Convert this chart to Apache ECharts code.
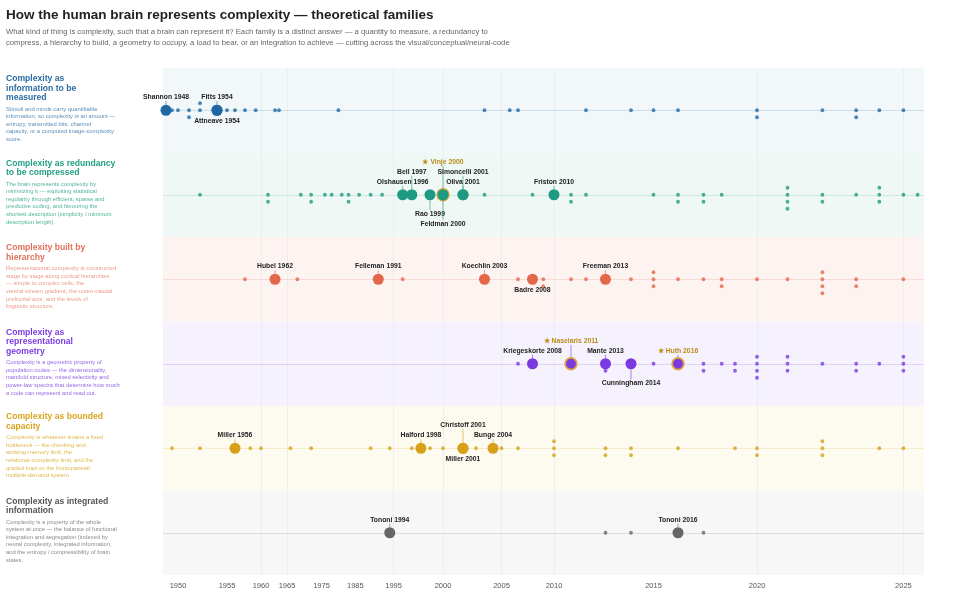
<!DOCTYPE html>
<html>
<head>
<meta charset="utf-8">
<script src="https://cdn.jsdelivr.net/npm/echarts@6/dist/echarts.min.js"></script>
<style>
html, body { margin: 0; padding: 0; background: #fff; }
#chart { width: 960px; height: 609px; }
</style>
</head>
<body>
<div id="chart"></div>
<script>
// year axis is warped: crowded decades get more room
const warpYears = [1948, 1950, 1952, 1954, 1955, 1956, 1957, 1960, 1962, 1965, 1975, 1985, 1995, 1999, 2000, 2001, 2002, 2005, 2007, 2008, 2010, 2011, 2012, 2013, 2014, 2015, 2016, 2017, 2018, 2019, 2020, 2021, 2022, 2023, 2024, 2025, 2026];
const warpPos = [166, 178, 200, 217, 227, 235, 245, 261, 275, 287, 321.5, 355.3, 393.6, 430, 443, 463, 476, 501.5, 518, 532.5, 554, 571, 586, 605.5, 631, 653.5, 678, 703.5, 721.7, 735, 757, 787.5, 822.4, 856.2, 879.3, 903.4, 917.6];
const tickYears = [1950, 1955, 1960, 1965, 1975, 1985, 1995, 2000, 2005, 2010, 2015, 2020, 2025];
const gridYears = [1960, 1965, 1995, 2000, 2005, 2010, 2020, 2025];

const familyTitles = [
  'Complexity as\ninformation to be\nmeasured',
  'Complexity as redundancy\nto be compressed',
  'Complexity built by\nhierarchy',
  'Complexity as\nrepresentational\ngeometry',
  'Complexity as bounded\ncapacity',
  'Complexity as integrated\ninformation'
];
const familyNotes = [
  'Stimuli and minds carry quantifiable\ninformation, so complexity is an amount —\nentropy, transmitted bits, channel\ncapacity, or a computed image-complexity\nscore.',
  'The brain represents complexity by\nminimizing it — exploiting statistical\nregularity through efficient, sparse and\npredictive coding, and favouring the\nshortest description (simplicity / minimum\ndescription length).',
  'Representational complexity is constructed\nstage by stage along cortical hierarchies\n— simple to complex cells, the\nventral-stream gradient, the rostro-caudal\nprefrontal axis, and the levels of\nlinguistic structure.',
  'Complexity is a geometric property of\npopulation codes — the dimensionality,\nmanifold structure, mixed selectivity and\npower-law spectra that determine how much\na code can represent and read out.',
  'Complexity is whatever strains a fixed\nbottleneck — the chunking and\nworking-memory limit, the\nrelational-complexity limit, and the\ngraded load on the frontoparietal\nmultiple-demand system.',
  'Complexity is a property of the whole\nsystem at once — the balance of functional\nintegration and segregation (indexed by\nneural complexity, integrated information,\nand the entropy / compressibility of brain\nstates.'
];
const familyColors = ['#1f68a3', '#1f9a82', '#e3674b', '#7b3ae0', '#d6a118', '#666666'];
const titleColors = ['#2a6ca3', '#23a086', '#e2705a', '#7a3de2', '#d8a51f', '#555555'];
const noteColors = ['#5b8fba', '#4fb39c', '#ee9c88', '#9466e8', '#dfb84e', '#8a8a8a'];
const bandColors = ['#f2f7fa', '#f0f8f6', '#fdf3f1', '#f6f2fd', '#fdfaf0', '#f7f7f7'];

// key papers: [label, year, label level (+ above / - below), starred]
const keyInfo = [['Shannon 1948', 1948, 1, 0], ['Fitts 1954', 1954, 1, 0], ['Attneave 1954', 1954, -1, 0]];
const keyRedundancy = [['Olshausen 1996', 1996, 1, 0], ['Bell 1997', 1997, 2, 0], ['Rao 1999', 1999, -2, 0], ['Vinje 2000', 2000, 3, 1], ['Feldman 2000', 2000, -3, 0], ['Simoncelli 2001', 2001, 2, 0], ['Oliva 2001', 2001, 1, 0], ['Friston 2010', 2010, 1, 0]];
const keyHierarchy = [['Hubel 1962', 1962, 1, 0], ['Felleman 1991', 1991, 1, 0], ['Koechlin 2003', 2003, 1, 0], ['Badre 2008', 2008, -1, 0], ['Freeman 2013', 2013, 1, 0]];
const keyGeometry = [['Kriegeskorte 2008', 2008, 1, 0], ['Naselaris 2011', 2011, 2, 1], ['Mante 2013', 2013, 1, 0], ['Cunningham 2014', 2014, -2, 0], ['Huth 2016', 2016, 1, 1]];
const keyCapacity = [['Miller 1956', 1956, 1, 0], ['Halford 1998', 1998, 1, 0], ['Christoff 2001', 2001, 2, 0], ['Miller 2001', 2001, -1, 0], ['Bunge 2004', 2004, 1, 0]];
const keyIntegrated = [['Tononi 1994', 1994, 1, 0], ['Tononi 2016', 2016, 1, 0]];

// other papers: [year, stack slot (0 on line, + below, - above)]
const minorInfo = [[1949,0],[1950,0],[1951,0],[1951,1],[1952,-1],[1952,0],[1955,0],[1956,0],[1957,0],[1959,0],[1962,0],[1963,0],[1980,0],[2003,0],[2006,0],[2007,0],[2012,0],[2014,0],[2015,0],[2016,0],[2020,0],[2020,1],[2022,0],[2023,0],[2023,1],[2024,0],[2025,0]];
const minorRedundancy = [[1952,0],[1961,0],[1961,1],[1969,0],[1972,0],[1972,1],[1976,0],[1978,0],[1981,0],[1983,0],[1983,1],[1986,0],[1989,0],[1992,0],[2003,0],[2008,0],[2011,0],[2011,1],[2012,0],[2015,0],[2016,0],[2016,1],[2017,0],[2017,1],[2018,0],[2021,-1],[2021,0],[2021,1],[2021,2],[2022,0],[2022,1],[2023,0],[2024,-1],[2024,0],[2024,1],[2025,0],[2026,0]];
const minorHierarchy = [[1957,0],[1968,0],[1996,0],[2007,0],[2009,0],[2009,1],[2011,0],[2012,0],[2014,0],[2015,-1],[2015,0],[2015,1],[2016,0],[2017,0],[2018,0],[2018,1],[2020,0],[2021,0],[2022,-1],[2022,0],[2022,1],[2022,2],[2023,0],[2023,1],[2025,0]];
const minorGeometry = [[2007,0],[2013,1],[2015,0],[2017,0],[2017,1],[2018,0],[2019,0],[2019,1],[2020,-1],[2020,0],[2020,1],[2020,2],[2021,-1],[2021,0],[2021,1],[2022,0],[2023,0],[2023,1],[2024,0],[2025,-1],[2025,0],[2025,1]];
const minorCapacity = [[1949,0],[1952,0],[1958,0],[1960,0],[1966,0],[1972,0],[1989,0],[1994,0],[1997,0],[1999,0],[2000,0],[2002,0],[2005,0],[2007,0],[2010,-1],[2010,0],[2010,1],[2013,0],[2013,1],[2014,0],[2014,1],[2016,0],[2019,0],[2020,0],[2020,1],[2022,-1],[2022,0],[2022,1],[2024,0],[2025,0]];
const minorIntegrated = [[2013,0],[2014,0],[2017,0]];

const keyAll = [keyInfo, keyRedundancy, keyHierarchy, keyGeometry, keyCapacity, keyIntegrated];
const minorAll = [minorInfo, minorRedundancy, minorHierarchy, minorGeometry, minorCapacity, minorIntegrated];

const FONT = '"Liberation Sans", Arial, Helvetica, sans-serif';
const GRID_TOP = 68, GRID_BOTTOM = 575, ROW_H = (GRID_BOTTOM - GRID_TOP) / 6;
const STACK = 7 / ROW_H;

function warp(year) {
  for (let i = 1; i < warpYears.length; i++) {
    if (year <= warpYears[i]) {
      const t = (year - warpYears[i - 1]) / (warpYears[i] - warpYears[i - 1]);
      return warpPos[i - 1] + t * (warpPos[i] - warpPos[i - 1]);
    }
  }
  return warpPos[warpPos.length - 1];
}

function unwarpTick(v) {
  let best = tickYears[0];
  tickYears.forEach(y => { if (Math.abs(warp(y) - v) < Math.abs(warp(best) - v)) best = y; });
  return best;
}

const series = [];

// vertical guides
series.push({
  type: 'scatter', data: [], silent: true, z: 1,
  markLine: {
    silent: true, symbol: 'none', z: 1, label: {show: false},
    lineStyle: {color: '#e8ebee', width: 0.8, type: 'solid'},
    data: gridYears.map(y => ({xAxis: warp(y)}))
  }
});

minorAll.forEach((list, row) => {
  const color = familyColors[row];
  series.push({
    type: 'scatter', z: 3, silent: true,
    symbolSize: 3.8,
    itemStyle: {color: color},
    data: list.map(d => [warp(d[0]), row + d[1] * STACK]),
    markArea: {
      silent: true, z: 0,
      itemStyle: {color: bandColors[row]},
      data: [[{yAxis: row - 0.5}, {yAxis: row + 0.5}]]
    },
    markLine: {
      silent: true, symbol: 'none', z: 2, label: {show: false},
      lineStyle: {color: color, width: 0.8, opacity: 0.22, type: 'solid'},
      data: [{yAxis: row}]
    }
  });
});

keyAll.forEach((list, row) => {
  const color = familyColors[row];
  series.push({
    type: 'custom', z: 4, silent: true,
    data: list.map(p => [warp(p[1]), row]),
    renderItem: function (params, api) {
      const p = list[params.dataIndex];
      const c = api.coord([api.value(0), api.value(1)]);
      const lvl = p[2], star = p[3];
      const dy = lvl > 0 ? [-13, -23, -33][lvl - 1] : [10.5, 19.5, 29][-lvl - 1];
      const ty = c[1] + dy;
      const r = star ? 5.8 : 5.5;
      const y1 = lvl > 0 ? ty + 4 : ty - 4;
      const y2 = lvl > 0 ? c[1] - r : c[1] + r;
      const kids = [];
      if (Math.abs(y2 - y1) > 1) {
        kids.push({type: 'line', shape: {x1: c[0], y1: y1, x2: c[0], y2: y2},
          style: {stroke: color, lineWidth: 0.8, opacity: 0.75}});
      }
      kids.push({type: 'circle', shape: {cx: c[0], cy: c[1], r: r},
        style: star ? {fill: color, stroke: '#d8a63a', lineWidth: 1.8} : {fill: color}});
      kids.push({type: 'text', style: {
        x: c[0], y: ty, text: (star ? '★ ' : '') + p[0],
        fill: star ? '#b98d18' : '#222',
        font: 'bold 6.8px ' + FONT, align: 'center', verticalAlign: 'middle'
      }});
      return {type: 'group', children: kids};
    }
  });
});

const graphic = [
  {type: 'text', left: 6, top: 8.5, style: {
    text: 'How the human brain represents complexity — theoretical families',
    font: 'bold 13.5px ' + FONT, fill: '#222'}},
  {type: 'text', left: 6, top: 26.5, style: {
    text: 'What kind of thing is complexity, such that a brain can represent it? Each family is a distinct answer — a quantity to measure, a redundancy to\ncompress, a hierarchy to build, a geometry to occupy, a load to bear, or an integration to achieve — cutting across the visual/conceptual/neural-code',
    font: '7.7px ' + FONT, lineHeight: 11, fill: '#666'}}
];
familyTitles.forEach((t, i) => {
  const top = GRID_TOP + i * ROW_H + 6.3;
  const n = t.split('\n').length;
  graphic.push({type: 'text', left: 6, top: top, style: {
    text: t, font: 'bold 8.6px ' + FONT, lineHeight: 9.5, fill: titleColors[i]}});
  graphic.push({type: 'text', left: 6, top: top + n * 9.5 + 2.4, style: {
    text: familyNotes[i], font: '5.8px ' + FONT, lineHeight: 7.6, fill: noteColors[i]}});
});

const chart = echarts.init(document.getElementById('chart'), null, {renderer: 'canvas'});
chart.setOption({
  animation: false,
  backgroundColor: '#fff',
  grid: {left: 163, right: 36, top: GRID_TOP, bottom: 609 - GRID_BOTTOM},
  xAxis: {
    type: 'value', min: 163, max: 924,
    axisLine: {show: false}, axisTick: {show: false}, splitLine: {show: false},
    axisLabel: {
      customValues: tickYears.map(warp),
      formatter: v => String(unwarpTick(v)),
      color: '#555', fontSize: 7.5, fontFamily: FONT, margin: 7
    }
  },
  yAxis: {type: 'value', min: -0.5, max: 5.5, inverse: true, show: false},
  graphic: graphic,
  series: series
});
</script>
</body>
</html>
